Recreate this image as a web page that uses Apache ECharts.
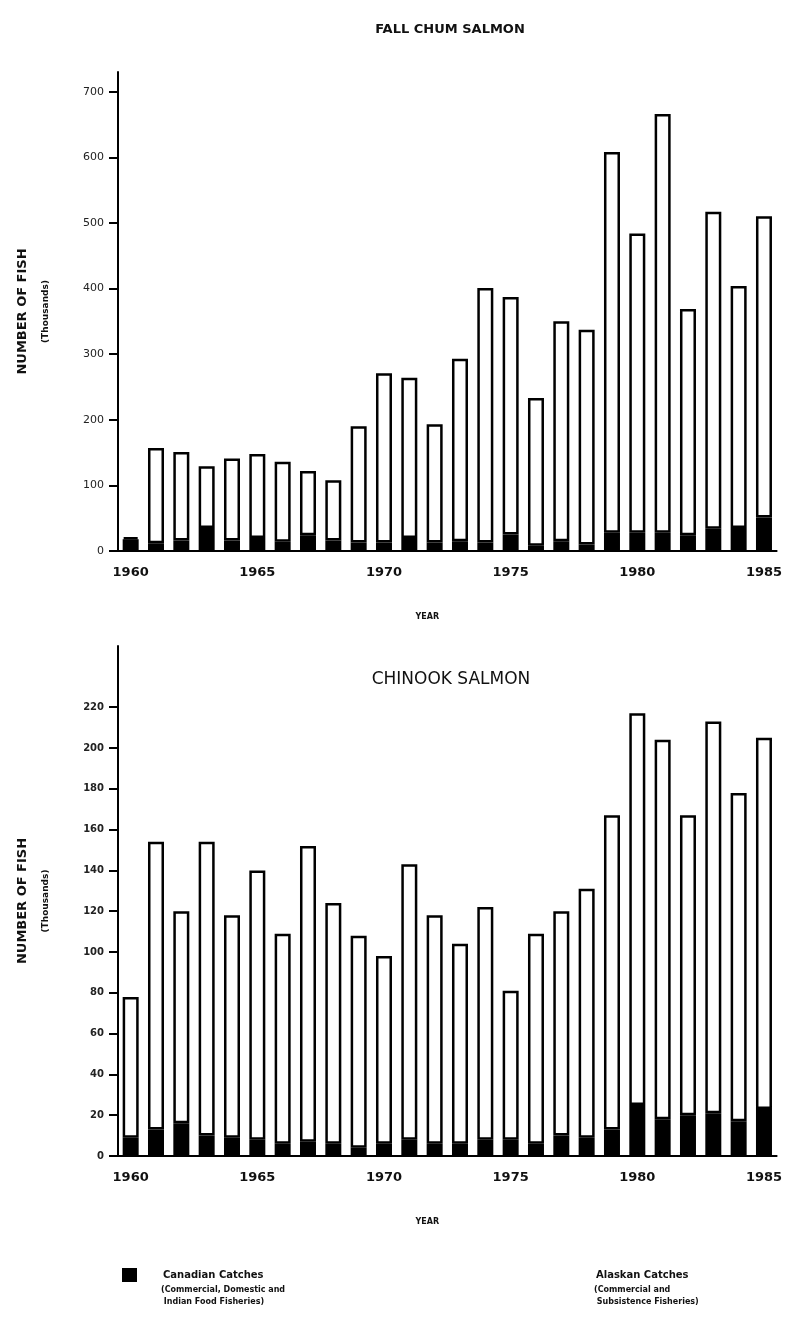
<!DOCTYPE html>
<html><head><meta charset="utf-8">
<script src="https://cdn.jsdelivr.net/npm/echarts@6/dist/echarts.min.js"></script>
<style>html,body{margin:0;padding:0;background:#fff}#c{width:785px;height:1328px}</style>
</head><body><div id="c"></div>
<script>
const years = ['1960','1961','1962','1963','1964','1965','1966','1967','1968','1969','1970','1971','1972','1973','1974','1975','1976','1977','1978','1979','1980','1981','1982','1983','1984','1985'];
// Fall chum salmon (thousands)
const chumCanadian = [18,12,16,35,16,20,14,24,16,13,13,20,13,15,13,25,8,15,10,28,28,28,24,34,35,51];
const chumAlaskan  = [3,145,135,94,125,128,122,98,92,177,258,244,180,278,388,362,225,335,327,580,456,638,345,483,369,459];
// Chinook salmon (thousands)
const chinookCanadian = [9,13,16,10,9,8,6,7,6,4,6,8,6,6,8,8,6,10,9,13,25,18,20,21,17,23];
const chinookAlaskan  = [69,141,104,144,109,132,103,145,118,104,92,135,112,98,114,73,103,110,122,154,192,186,147,192,161,182];
const chumTicks = [0,100,200,300,400,500,600,700];
const chinookTicks = [0,20,40,60,80,100,120,140,160,180,200,220];

const chart = echarts.init(document.getElementById('c'), null, {renderer:'canvas'});
const FONT = 'DejaVu Sans';
function xAxis(gi){
  return {
    type:'category', gridIndex:gi, data:years,
    axisLine:{lineStyle:{color:'#000',width:2}},
    axisTick:{interval:0, alignWithLabel:true, length:6, lineStyle:{color:'#000',width:2}},
    axisLabel:{interval:4, margin:15, color:'#111', fontFamily:FONT, fontWeight:'bold', fontSize:13},
    name:'YEAR', nameLocation:'middle', nameGap:62,
    nameTextStyle:{color:'#111', fontFamily:FONT, fontWeight:'bold', fontSize:8, padding:[0,40,0,0]}
  };
}
function yAxis(gi, max, interval, ticks, bold, fs){
  return {
    type:'value', gridIndex:gi, min:0, max:max, interval:interval,
    axisLine:{show:true, lineStyle:{color:'#000',width:2}},
    axisTick:{show:true, length:9, customValues:ticks, lineStyle:{color:'#000',width:2}},
    axisLabel:{customValues:ticks, margin:14, color:'#222', fontFamily:FONT, fontSize:fs, fontWeight: bold?'bold':'normal'},
    splitLine:{show:false},
    name:'{a|NUMBER OF FISH}\n{b|(Thousands)}', nameLocation:'middle', nameRotate:90, nameGap:64,
    nameTextStyle:{rich:{
      a:{fontFamily:FONT, fontWeight:'bold', fontSize:13, color:'#111', lineHeight:30},
      b:{fontFamily:FONT, fontWeight:'bold', fontSize:9, color:'#111', lineHeight:16}
    }}
  };
}
function bars(name, data, gi, stack, dark){
  return {
    name:name, type:'bar', xAxisIndex:gi, yAxisIndex:gi, stack:stack, data:data, barWidth:16,
    itemStyle: dark ? {color:'#000', borderColor:'#000', borderWidth:2.5}
                    : {color:'#fff', borderColor:'#000', borderWidth:2.5},
    emphasis:{disabled:true}
  };
}
const subStyle = {fontFamily:FONT, fontWeight:'bold', fontSize:8, fill:'#111'};
chart.setOption({
  animation:false,
  backgroundColor:'#fff',
  title:[
    {text:'FALL CHUM SALMON', left:445, top:18, textAlign:'center',
     textStyle:{fontFamily:FONT, fontWeight:'bold', fontSize:13, color:'#111'}},
    {text:'CHINOOK SALMON', left:446, top:666, textAlign:'center',
     textStyle:{fontFamily:FONT, fontWeight:'normal', fontSize:17, color:'#111'}}
  ],
  grid:[
    {left:118, top:72, width:662, height:479},
    {left:118, top:646, width:662, height:510}
  ],
  xAxis:[xAxis(0), xAxis(1)],
  yAxis:[yAxis(0,730,100,chumTicks,false,11), yAxis(1,250,20,chinookTicks,true,10)],
  legend:[
    {data:[{name:'Canadian Catches', icon:'rect'}], left:117, top:1263, itemWidth:13, itemHeight:12, selectedMode:false,
     textStyle:{fontFamily:FONT, fontWeight:'bold', fontSize:10, color:'#111', padding:[0,0,0,22]}},
    {data:[{name:'Alaskan Catches', icon:'rect', itemStyle:{opacity:0}}], left:572, top:1263, itemWidth:13, itemHeight:12, selectedMode:false,
     textStyle:{fontFamily:FONT, fontWeight:'bold', fontSize:10, color:'#111'}}
  ],
  graphic:[
    {type:'text', left:161, top:1284, style:Object.assign({text:'(Commercial, Domestic and\n Indian Food Fisheries)', lineHeight:12}, subStyle)},
    {type:'text', left:594, top:1284, style:Object.assign({text:'(Commercial and\n Subsistence Fisheries)', lineHeight:12}, subStyle)}
  ],
  series:[
    bars('Canadian Catches', chumCanadian, 0, 'chum', true),
    bars('Alaskan Catches', chumAlaskan, 0, 'chum', false),
    bars('Canadian Catches', chinookCanadian, 1, 'chinook', true),
    bars('Alaskan Catches', chinookAlaskan, 1, 'chinook', false)
  ]
});
</script></body></html>
